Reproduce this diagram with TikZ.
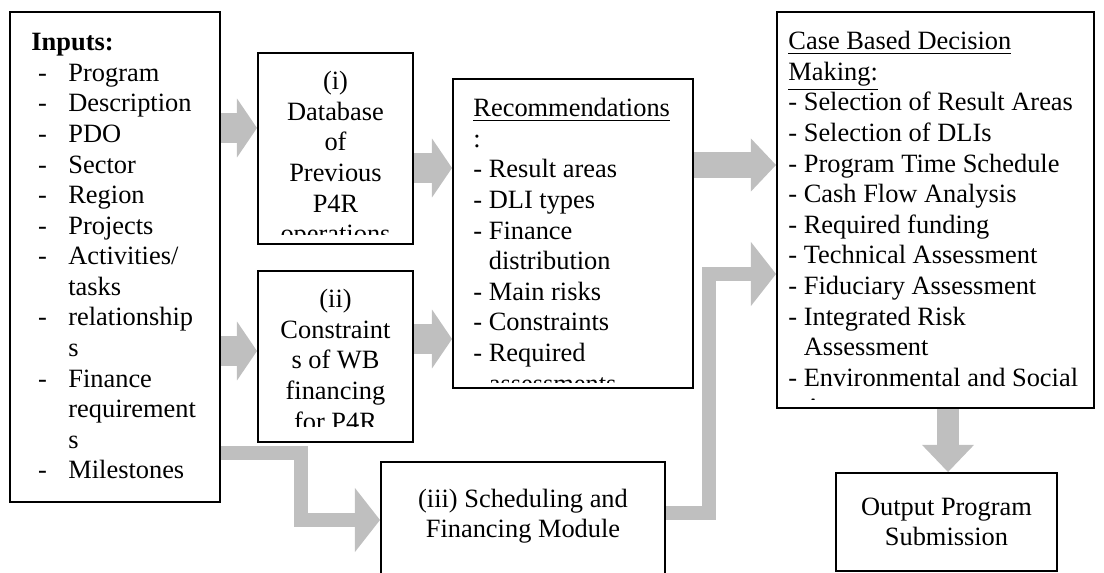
\documentclass[tikz,border=0pt]{standalone}
\usepackage{fontspec}
\setmainfont{Liberation Serif}
\usetikzlibrary{arrows.meta,fit}
\definecolor{arrgray}{RGB}{191,191,191}
\pgfdeclarelayer{bg}
\pgfsetlayers{bg,main}
\newcommand\inpitem[1]{\hspace*{3pt}\makebox[13.8pt][l]{-}#1}
\newcommand\inpcont[1]{\hspace*{16.8pt}#1}
\newcommand\dashcont[1]{\phantom{-}\ #1}
\begin{document}
\begin{tikzpicture}[x=0.4545pt,y=-0.4545pt,
  box/.style={draw=black,line width=0.9pt,inner sep=0pt},
  txt/.style={font=\fontsize{12pt}{13.9pt}\selectfont,inner sep=0pt},
  blockarrow/.style={draw=arrgray,line width=13.6pt,
    -{Triangle[width=26.8pt,length=9.1pt,line width=0pt]}},
  midarrow/.style={draw=arrgray,line width=11.8pt,
    -{Triangle[width=24.1pt,length=11.4pt,line width=0pt]}},
  bentarrow/.style={draw=arrgray,line width=6.4pt,line join=miter,
    -{Triangle[width=29.1pt,length=11.4pt,line width=0pt]}},
  downarrow/.style={draw=arrgray,line width=10pt,
    -{Triangle[width=23.6pt,length=12.3pt,line width=0pt]}}]
\useasboundingbox (0,0) rectangle (1104,573);

% boxes
\node[box,fit={(10,12) (220,502)}] (inp) {};
\node[box,fit={(258,53) (413,244)}] (dbi) {};
\node[box,fit={(258,271) (413,442)}] (con) {};
\node[box,fit={(453,79) (693,388)}] (rec) {};
\node[box,fit={(777,12) (1094,408)}] (cbd) {};
\node[box,fit={(381,462) (665,582)}] (sch) {};
\node[box,fit={(836,473) (1057,571)}] (out) {};

% texts
\node[txt,anchor=north west,align=left] (inpt) at (31,33) {%
\textbf{Inputs:}\\
\inpitem{Program}\\
\inpitem{Description}\\
\inpitem{PDO}\\
\inpitem{Sector}\\
\inpitem{Region}\\
\inpitem{Projects}\\
\inpitem{Activities/}\\
\inpcont{tasks}\\
\inpitem{relationship}\\
\inpcont{s}\\
\inpitem{Finance}\\
\inpcont{requirement}\\
\inpcont{s}\\
\inpitem{Milestones}};

\begin{scope}
\clip (259,54) rectangle (412,235);
\node[txt,anchor=north,align=center] (dbit) at (335.5,71) {%
(i)\\Database\\of\\Previous\\P4R\\operations};
\end{scope}

\begin{scope}
\clip (259,272) rectangle (412,427);
\node[txt,anchor=north,align=center] (cont) at (335.5,289) {%
(ii)\\Constraint\\s of WB\\financing\\for P4R};
\end{scope}

\begin{scope}
\clip (454,80) rectangle (692,383);
\node[txt,anchor=north west,align=left] (rect) at (473,98) {%
\underline{Recommendations}\\
:\\
- Result areas\\
- DLI types\\
- Finance\\
\dashcont{distribution}\\
- Main risks\\
- Constraints\\
- Required\\
\dashcont{assessments}};
\end{scope}

\begin{scope}
\clip (778,13) rectangle (1093,400);
\node[txt,anchor=north west,align=left] (cbdt) at (788,31) {%
\underline{Case Based Decision}\\
\underline{Making:}\\
- Selection of Result Areas\\
- Selection of DLIs\\
- Program Time Schedule\\
- Cash Flow Analysis\\
- Required funding\\
- Technical Assessment\\
- Fiduciary Assessment\\
- Integrated Risk\\
\dashcont{Assessment}\\
- Environmental and Social\\
\dashcont{Assessment}};
\end{scope}

\node[txt,align=center] (scht) at (523,516) {(iii) Scheduling and\\Financing Module};
\node[txt,align=center] (outt) at (946.5,522) {Output Program\\Submission};

% arrows
\coordinate (b1) at (301,486);
\coordinate (b2) at (709,400);
\begin{pgfonlayer}{bg}
\draw[blockarrow] (inp.east |- 0,128) -- (dbi.west |- 0,128);
\draw[blockarrow] (inp.east |- 0,351) -- (con.west |- 0,351);
\draw[blockarrow] (dbi.east |- 0,168) -- (rec.west |- 0,168);
\draw[blockarrow] (con.east |- 0,339) -- (rec.west |- 0,339);
\draw[midarrow] (rec.east |- 0,165) -- (cbd.west |- 0,165);
\draw[bentarrow] (inp.east |- 0,453) -| (b1) |- (sch.west |- 0,520);
\draw[bentarrow] (sch.east |- 0,513) -| (b2) |- (cbd.west |- 0,274);
\draw[downarrow] (cbd.south -| 948,0) -- (out.north -| 948,0);
\end{pgfonlayer}
\end{tikzpicture}
\end{document}
